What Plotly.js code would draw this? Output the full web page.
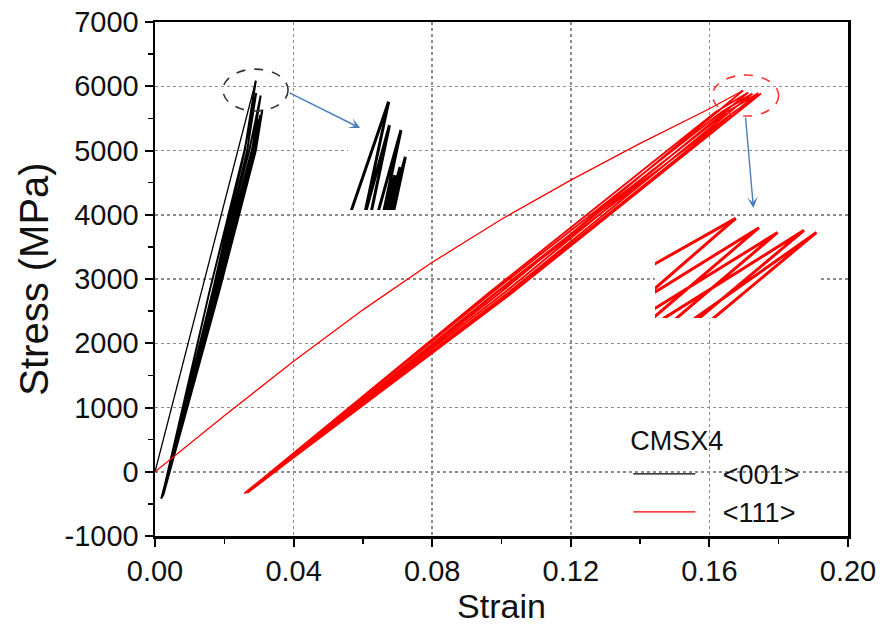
<!DOCTYPE html>
<html>
<head>
<meta charset="utf-8">
<script src="https://cdn.plot.ly/plotly-3.0.1.min.js"></script>
<style>
  html, body { margin: 0; padding: 0; background: #fff; }
  #chart { width: 880px; height: 631px; }
</style>
</head>
<body>
<div id="chart"></div>
<script>
// CMSX4 <001>: first monotonic loading path
const loadStrain001 = [0, 0.010, 0.020, 0.0291];
const loadStress001 = [0, 2080, 4170, 6086];
// CMSX4 <001>: cyclic loops
// each cycle: peak, near-peak unload, mid-unload, valley, mid-reload, near-peak reload, next peak
const cycStrain001 = [0.0291, 0.0259, 0.0166, 0.0020, 0.0157, 0.0258, 0.0292, 0.0266, 0.0170, 0.0022,
                      0.0166, 0.0272, 0.0305, 0.0280, 0.0178, 0.0018, 0.0173, 0.0286, 0.0310, 0.0291,
                      0.0185, 0.0024, 0.0173, 0.0283, 0.0304, 0.0288, 0.0183, 0.0021, 0.0170, 0.0279,
                      0.0298, 0.0284, 0.0180, 0.0020];
const cycStress001 = [6086, 5000, 2800, -400, 2800, 5000, 5895, 5000, 2800, -380,
                      2800, 5000, 5855, 5000, 2800, -420, 2800, 5000, 5636, 5000,
                      2800, -360, 2800, 5000, 5552, 5000, 2800, -390, 2800, 5000,
                      5486, 5000, 2800, -400];

// CMSX4 <111>: first monotonic loading path
const loadStrain111 = [0, 0.02, 0.04, 0.06, 0.08, 0.10, 0.12, 0.14, 0.16, 0.1646, 0.1697];
const loadStress111 = [0, 870, 1720, 2520, 3260, 3930, 4540, 5110, 5650, 5785, 5933];
// CMSX4 <111>: cyclic loops
// each cycle: peak, mid-unload, valley, mid-reload, near-peak reload, next peak
const cycStrain111 = [0.1697, 0.0999, 0.0258, 0.0963, 0.1618, 0.1712, 0.1009, 0.0262, 0.0971, 0.1635,
                      0.1724, 0.1017, 0.0266, 0.0982, 0.1651, 0.1741, 0.1028, 0.0270, 0.0988, 0.1671,
                      0.1749, 0.1034, 0.0274];
const cycStress111 = [5933, 2797, -340, 2781, 5600, 5902, 2791, -320, 2783, 5600,
                      5886, 2778, -330, 2782, 5600, 5893, 2797, -300, 2793, 5600,
                      5886, 2798, -290];

// Axis ticks
const xTickVals = [0, 0.04, 0.08, 0.12, 0.16, 0.20];
const xTickText = ['0.00', '0.04', '0.08', '0.12', '0.16', '0.20'];
const yTickVals = [-1000, 0, 1000, 2000, 3000, 4000, 5000, 6000, 7000];
const yTickText = ['-1000', '0', '1000', '2000', '3000', '4000', '5000', '6000', '7000'];

// Legend labels
const legendTitle = 'CMSX4';
const seriesNames = ['&lt;001&gt;', '&lt;111&gt;'];

const BLACK = '#000000';
const RED = '#ff0000';
const BLUE = '#4a7ebb';
const FONT = 'Arial, "Liberation Sans", sans-serif';
const TXT = '#111111';
const GAP = '\u00a0\u00a0\u00a0';   // space between legend line sample and label

function line(x, y, color, width, axes, opts) {
  return Object.assign({
    type: 'scatter', mode: 'lines', x: x, y: y,
    xaxis: axes[0], yaxis: axes[1],
    line: { color: color, width: width },
    hoverinfo: 'skip', showlegend: false
  }, opts || {});
}

const traces = [
  // main panel
  line(loadStrain001, loadStress001, BLACK, 1.3, ['x', 'y'], { name: GAP + seriesNames[0], legendgroup: 'a', showlegend: true }),
  line(cycStrain001, cycStress001, BLACK, 2.0, ['x', 'y'], { legendgroup: 'a' }),
  line(loadStrain111, loadStress111, RED, 1.3, ['x', 'y'], { name: GAP + seriesNames[1], legendgroup: 'b', showlegend: true }),
  line(cycStrain111, cycStress111, RED, 1.9, ['x', 'y'], { legendgroup: 'b' }),
  // magnified peak region, <001>
  line(loadStrain001, loadStress001, BLACK, 3, ['x2', 'y2']),
  line(cycStrain001, cycStress001, BLACK, 3, ['x2', 'y2']),
  // magnified peak region, <111>
  line(loadStrain111, loadStress111, RED, 3, ['x3', 'y3']),
  line(cycStrain111, cycStress111, RED, 3, ['x3', 'y3'])
];

const axisCommon = {
  showline: true, linewidth: 2.5, linecolor: BLACK, mirror: true,
  ticks: 'outside', ticklen: 8, tickwidth: 2, tickcolor: BLACK,
  showgrid: true, gridcolor: '#8c8c8c', gridwidth: 1.5, griddash: 'dot',
  zeroline: false, tickfont: { family: FONT, size: 29, color: TXT },
  tickmode: 'array', fixedrange: true
};

const layout = {
  width: 880, height: 631,
  margin: { l: 155, r: 32, t: 22, b: 95 },
  paper_bgcolor: '#ffffff', plot_bgcolor: '#ffffff',
  font: { family: FONT, color: TXT },
  xaxis: Object.assign({}, axisCommon, {
    range: [0, 0.2], tickvals: xTickVals, ticktext: xTickText,
    minor: { ticks: 'outside', ticklen: 5, tickwidth: 1.5, tickcolor: BLACK, dtick: 0.02, tick0: 0, showgrid: false },
    title: { text: 'Strain', font: { family: FONT, size: 34, color: TXT }, standoff: 8 }
  }),
  yaxis: Object.assign({}, axisCommon, {
    range: [-1000, 7000], tickvals: yTickVals, ticktext: yTickText,
    minor: { ticks: 'outside', ticklen: 5, tickwidth: 1.5, tickcolor: BLACK, dtick: 500, tick0: 0, showgrid: false },
    title: { text: 'Stress (MPa)', font: { family: FONT, size: 40, color: TXT }, standoff: 4 }
  }),
  xaxis2: { domain: [0.2785, 0.3651], anchor: 'y2', range: [0.0245, 0.0313], visible: false, fixedrange: true },
  yaxis2: { domain: [0.634, 0.848], anchor: 'x2', range: [5200, 6100], visible: false, fixedrange: true },
  xaxis3: { domain: [0.7215, 0.9567], anchor: 'y3', range: [0.1645, 0.1750], visible: false, fixedrange: true },
  yaxis3: { domain: [0.424, 0.622], anchor: 'x3', range: [5600, 5940], visible: false, fixedrange: true },
  showlegend: true,
  legend: {
    x: 0.683, y: 0.236, xanchor: 'left', yanchor: 'top',
    bgcolor: 'rgba(0,0,0,0)', borderwidth: 0,
    font: { family: FONT, size: 27, color: TXT },
    title: { text: legendTitle, font: { family: FONT, size: 27, color: TXT } },
    itemwidth: 62,
    tracegroupgap: 0
  },
  shapes: [
    // white panels behind the magnified views
    { type: 'rect', xref: 'paper', yref: 'paper', x0: 0.274, x1: 0.440, y0: 0.634, y1: 0.862,
      fillcolor: '#ffffff', line: { width: 0 }, layer: 'between' },
    { type: 'rect', xref: 'paper', yref: 'paper', x0: 0.717, x1: 0.9625, y0: 0.416, y1: 0.644,
      fillcolor: '#ffffff', line: { width: 0 }, layer: 'between' },
    // dashed rings around the two peaks
    { type: 'circle', xref: 'x', yref: 'y', x0: 0.0196, x1: 0.0384, y0: 5614, y1: 6267,
      line: { color: '#333333', width: 1.6, dash: 'dash' } },
    { type: 'circle', xref: 'x', yref: 'y', x0: 0.1609, x1: 0.1800, y0: 5536, y1: 6174,
      line: { color: '#ff3333', width: 1.6, dash: 'dash' } }
  ],
  annotations: [
    { xref: 'x', yref: 'y', axref: 'x', ayref: 'y', x: 0.0592, y: 5350, ax: 0.0384, ay: 5910,
      showarrow: true, arrowhead: 3, arrowsize: 1.3, arrowwidth: 1.4, arrowcolor: BLUE, text: '' },
    { xref: 'x', yref: 'y', axref: 'x', ayref: 'y', x: 0.1727, y: 4106, ax: 0.1704, ay: 5536,
      showarrow: true, arrowhead: 3, arrowsize: 1.3, arrowwidth: 1.4, arrowcolor: BLUE, text: '' }
  ]
};

Plotly.newPlot('chart', traces, layout, { staticPlot: true, displayModeBar: false });
</script>
</body>
</html>
